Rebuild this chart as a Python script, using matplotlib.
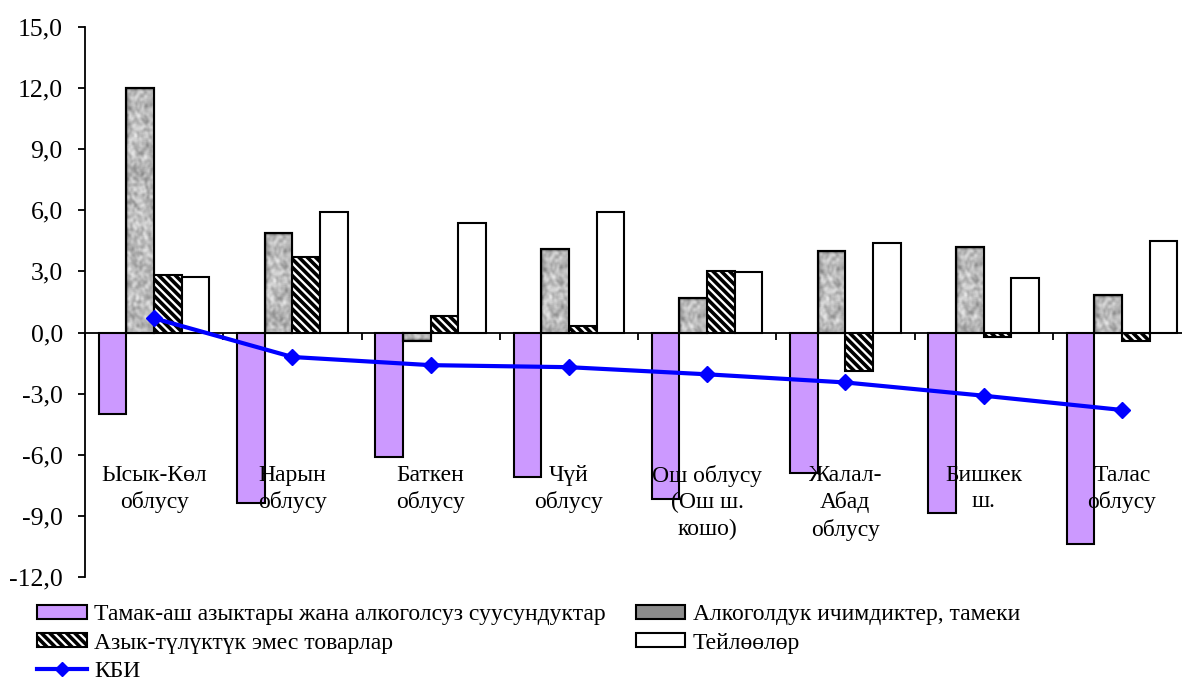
import numpy as np
import matplotlib
matplotlib.use("Agg")
import matplotlib.pyplot as plt
from matplotlib.patches import Patch
from matplotlib.lines import Line2D

# ---- data ----
categories = ["Ысык-Көл\nоблусу", "Нарын\nоблусу", "Баткен\nоблусу", "Чүй\nоблусу",
              "Ош облусу\n(Ош ш.\nкошо)", "Жалал-\nАбад\nоблусу", "Бишкек\nш.", "Талас\nоблусу"]
food = [-4.0, -8.35, -6.1, -7.1, -8.15, -6.9, -8.85, -10.4]
alcohol = [12.0, 4.9, -0.4, 4.1, 1.7, 4.0, 4.2, 1.85]
nonfood = [2.85, 3.7, 0.8, 0.3, 3.0, -1.9, -0.2, -0.4]
services = [2.75, 5.9, 5.4, 5.9, 2.95, 4.4, 2.7, 4.5]
kbi = [0.7, -1.2, -1.6, -1.7, -2.05, -2.45, -3.1, -3.8]
series_names = ["Тамак-аш азыктары жана алкоголсуз суусундуктар",
                "Алкоголдук ичимдиктер, тамеки",
                "Азык-түлүктүк эмес товарлар",
                "Тейлөөлөр",
                "КБИ"]
yticks = [-12, -9, -6, -3, 0, 3, 6, 9, 12, 15]

plt.rcParams['font.family'] = ['Liberation Serif', 'DejaVu Serif']
plt.rcParams['hatch.linewidth'] = 2.6

W, H = 1182, 684
fig = plt.figure(figsize=(W / 100, H / 100), dpi=100)
ax = fig.add_axes([85 / W, 1 - 577 / H, (1191 - 85) / W, (577 - 27) / H])

x = np.arange(len(categories))
bw = 0.2
ec = dict(edgecolor='black', linewidth=1.5)
b_food = ax.bar(x - 0.3, food, bw, color='#CC99FF', zorder=2, **ec)
b_alc = ax.bar(x - 0.1, alcohol, bw, color='#A0A0A0', zorder=2, **ec)
b_non = ax.bar(x + 0.1, nonfood, bw, color='white', hatch='\\\\\\\\', zorder=2, **ec)
b_srv = ax.bar(x + 0.3, services, bw, color='white', zorder=2, **ec)

# granite-like texture for the alcohol bars (style only)
rng = np.random.default_rng(7)
tex = rng.random((300, 40))
k = np.ones(4) / 4
for _ in range(2):
    tex = np.apply_along_axis(lambda r: np.convolve(r, k, mode='same'), 0, tex)
    tex = np.apply_along_axis(lambda r: np.convolve(r, k, mode='same'), 1, tex)
tex = (tex - tex.min()) / (tex.max() - tex.min())
tex = np.clip(0.12 + 0.8 * tex ** 0.9, 0, 0.9)
for rect in b_alc:
    x0, y0 = rect.get_x(), rect.get_y()
    w, h = rect.get_width(), rect.get_height()
    rows = max(4, int(abs(h) / 12.0 * 300))
    im = ax.imshow(tex[:rows], cmap='gray', vmin=0, vmax=1, aspect='auto',
                   extent=[x0, x0 + w, y0, y0 + h], zorder=2.1, interpolation='bilinear')
    im.set_clip_path(rect)
    ax.add_patch(plt.Rectangle((x0, y0), w, h, fill=False, edgecolor='black',
                               linewidth=1.5, zorder=2.2))

ax.plot(x, kbi, color='#0000FF', linewidth=3, marker='D', markersize=8, zorder=4)

ax.set_xlim(-0.5, 7.5)
ax.set_ylim(-12, 15)
ax.set_yticks(yticks)
ax.set_yticklabels([f"{v:.1f}".replace('.', ',') for v in yticks], fontsize=18.5)
ax.set_xticks(np.arange(-0.5, 8, 1))
ax.set_xticklabels([])
ax.tick_params(axis='y', direction='out', length=5, width=1.3, pad=11)
ax.tick_params(axis='x', direction='out', length=5, width=1.3, bottom=True)
for s in ['top', 'right']:
    ax.spines[s].set_visible(False)
ax.spines['bottom'].set_position(('data', 0))
ax.spines['bottom'].set_linewidth(1.3)
ax.spines['bottom'].set_zorder(1)
ax.spines['left'].set_linewidth(1.3)

# category labels
for i, lab in enumerate(categories):
    ax.text(i, -6.5, lab, ha='center', va='top', fontsize=17,
            linespacing=1.32, zorder=5)

handles = [Patch(facecolor='#CC99FF', edgecolor='black', linewidth=1.5),
           Patch(facecolor='white', edgecolor='black', hatch='\\\\\\\\', linewidth=1.5),
           Line2D([], [], color='#0000FF', linewidth=3, marker='D', markersize=7),
           Patch(facecolor='#8C8C8C', edgecolor='black', linewidth=1.5),
           Patch(facecolor='white', edgecolor='black', linewidth=1.5)]
labels = [series_names[0], series_names[2], series_names[4], series_names[1], series_names[3]]
fig.legend(handles, labels, ncol=2, loc='upper left', bbox_to_anchor=(37 / W, 1 - 604 / H),
           frameon=False, fontsize=17, handlelength=2.1, handleheight=0.55,
           handletextpad=0.33, columnspacing=1.25, labelspacing=0.32, borderpad=0,
           borderaxespad=0)

fig.savefig('out.png', dpi=100)
